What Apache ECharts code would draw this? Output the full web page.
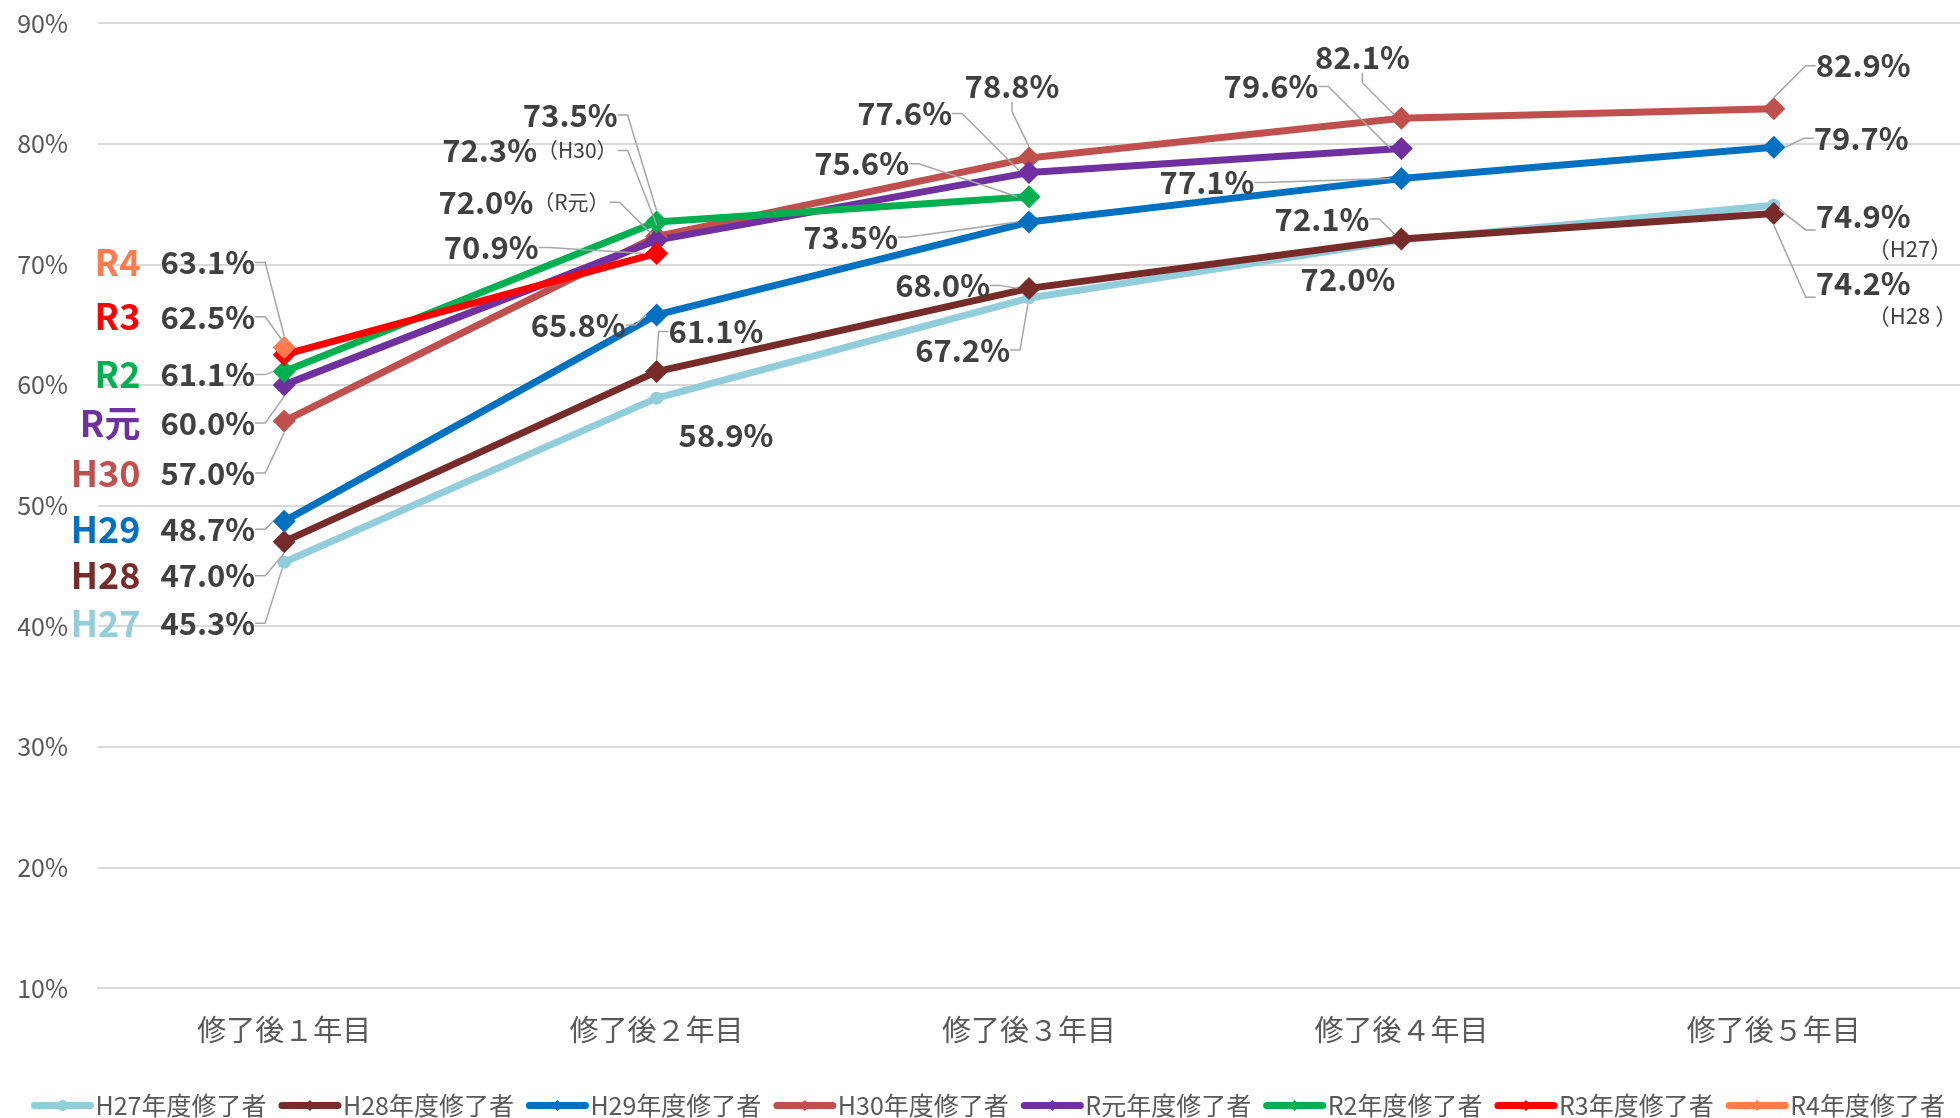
<!DOCTYPE html>
<html>
<head>
<meta charset="utf-8">
<script src="https://cdn.jsdelivr.net/npm/echarts@6/dist/echarts.min.js"></script>
<style>
  html, body { margin: 0; padding: 0; background: #fff; }
  #main { width: 1960px; height: 1118px; }
</style>
</head>
<body>
<div id="main"></div>
<script>
// 横軸
const categories = ['修了後１年目', '修了後２年目', '修了後３年目', '修了後４年目', '修了後５年目'];
const seriesNames = ['H27年度修了者', 'H28年度修了者', 'H29年度修了者', 'H30年度修了者',
                     'R元年度修了者', 'R2年度修了者', 'R3年度修了者', 'R4年度修了者'];
const shortNames = ['H27', 'H28', 'H29', 'H30', 'R元', 'R2', 'R3', 'R4'];

// 各年度修了者の割合 (%)
const h27 = [45.3, 58.9, 67.2, 72.0, 74.9];
const h28 = [47.0, 61.1, 68.0, 72.1, 74.2];
const h29 = [48.7, 65.8, 73.5, 77.1, 79.7];
const h30 = [57.0, 72.3, 78.8, 82.1, 82.9];
const rGan = [60.0, 72.0, 77.6, 79.6];
const r2 = [61.1, 73.5, 75.6];
const r3 = [62.5, 70.9];
const r4 = [63.1];

// ラベルの注記
const notes = [
  ['', '', '', '', '（H27）'],
  ['', '', '', '', '（H28 ）'],
  [],
  ['', '（H30）'],
  ['', '（R元）'],
  [], [], []
];

const values = [h27, h28, h29, h30, rGan, r2, r3, r4];
const colors = ['#92CDDC', '#772C2A', '#0070C0', '#C0504D', '#7030A0', '#00B050', '#FF0000', '#FF7B4F'];

// ラベル位置: [揃え, dx, dy] (マーカー中心から)
const labelPos = [
  [['right', -29, 61], ['left', 22, 37], ['right', -19, 52], ['right', -6, 39], ['left', 42, 25]],
  [['right', -29, 34], ['left', 12, -40], ['right', -39, -3], ['right', -32, -20], ['left', 42, 84]],
  [['right', -29, 8], ['right', -31, 10], ['right', -131, 15], ['right', -147, 4], ['left', 40, -9]],
  [['right', -29, 52], ['right', -39, -86], ['center', -17, -72], ['center', -39, -61], ['left', 42, -43]],
  [['right', -29, 38], ['right', -47, -38], ['right', -77, -59], ['right', -83, -62]],
  [['right', -29, 3], ['right', -39, -107], ['right', -120, -33]],
  [['right', -29, -38], ['right', -118, -6]],
  [['right', -29, -85]]
];
// 引き出し線なし
const noLeader = ['0-1', '0-3'];

const series = values.map(function (vals, si) {
  return {
    name: seriesNames[si],
    type: 'line',
    data: vals.map(function (v, di) {
      return { value: v, labelLine: { show: noLeader.indexOf(si + '-' + di) < 0 } };
    }),
    symbol: si === 0 ? 'circle' : 'diamond',
    symbolSize: si === 0 ? 13 : 23,
    showAllSymbol: true,
    lineStyle: { width: 7, color: colors[si], cap: 'round', join: 'round' },
    itemStyle: { color: colors[si] },
    emphasis: { disabled: true },
    label: {
      show: true,
      position: ['50%', '50%'],
      color: '#404040',
      textBorderWidth: 0,
      formatter: function (p) {
        const di = p.dataIndex;
        let s = '';
        if (di === 0) s += '{n|' + shortNames[si] + '}';
        s += '{v|' + p.value.toFixed(1) + '%}';
        const note = notes[si][di];
        if (note) s += di === 4 ? '\n{sb|' + note + '}' : '{s|' + note + '}';
        return s;
      },
      rich: {
        n: { fontSize: 36, fontWeight: 'bold', color: colors[si], padding: [0, 20, 0, 0] },
        v: { fontSize: 31, fontWeight: 'bold', color: '#404040', lineHeight: 36 },
        s: { fontSize: 21, color: '#404040' },
        sb: { fontSize: 22, color: '#404040', lineHeight: 28, padding: [0, 0, 0, 52] }
      }
    },
    labelLine: {
      show: true,
      showAbove: true,
      length2: 10,
      lineStyle: { color: '#A6A6A6', width: 1.5 }
    },
    labelLayout: function (p) {
      const o = labelPos[si][p.dataIndex];
      return { align: o[0], verticalAlign: 'middle', dx: o[1], dy: o[2] };
    }
  };
});

const option = {
  animation: false,
  backgroundColor: '#fff',
  textStyle: { fontFamily: "'Noto Sans CJK JP', sans-serif" },
  grid: { left: 98, right: 0, top: 23, bottom: 130, containLabel: false, outerBoundsMode: 'none' },
  legend: {
    data: seriesNames,
    bottom: 0,
    left: 31,
    padding: 0,
    itemWidth: 56,
    itemHeight: 14,
    itemGap: 12,
    textStyle: { fontSize: 25, color: '#595959' },
    lineStyle: { width: 7, cap: 'round' }
  },
  xAxis: {
    type: 'category',
    data: categories,
    axisLine: { lineStyle: { color: '#D9D9D9', width: 2 } },
    axisTick: { show: false },
    axisLabel: { fontSize: 29, color: '#595959', margin: 27 }
  },
  yAxis: {
    type: 'value',
    min: 10,
    max: 90,
    interval: 10,
    axisLine: { show: false },
    axisTick: { show: false },
    axisLabel: { formatter: '{value}%', fontSize: 25, color: '#595959', margin: 30 },
    splitLine: { lineStyle: { color: '#D9D9D9', width: 2 } }
  },
  series: series
};

const myChart = echarts.init(document.getElementById('main'));
myChart.setOption(option);
</script>
</body>
</html>
